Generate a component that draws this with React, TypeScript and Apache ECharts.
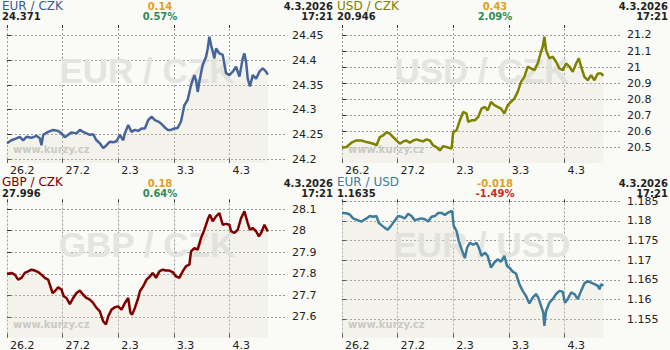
import React, { useEffect, useRef } from "react";
import * as echarts from "echarts";

// ---------- data ----------
const dayLabels = ["26.2", "27.2", "2.3", "3.3", "4.3"];
const dayTicks = [0, 1, 2, 3, 4];

const pairNames = ["EUR / CZK", "USD / CZK", "GBP / CZK", "EUR / USD"];
const lastValues = ["24.371", "20.946", "27.996", "1.1635"];
const changes = ["0.14", "0.43", "0.18", "-0.018"];
const changePcts = ["0.57%", "2.09%", "0.64%", "-1.49%"];
const dateLabel = "4.3.2026";
const timeLabel = "17:21";
const watermarkSite = "www.kurzy.cz";

// time in days since 26.2 00:00 (trading-axis units)
const eurCzkT = [0, 0.08, 0.17, 0.23, 0.29, 0.35, 0.44, 0.53, 0.59, 0.62, 0.65, 0.74, 0.83, 0.92, 0.98, 1.04, 1.1, 1.16, 1.25, 1.31, 1.37, 1.43, 1.49, 1.55, 1.61, 1.67, 1.73, 1.79, 1.85, 1.91, 1.97, 2.03, 2.09, 2.12, 2.18, 2.24, 2.3, 2.36, 2.42, 2.48, 2.54, 2.6, 2.66, 2.72, 2.77, 2.83, 2.89, 2.95, 3.01, 3.07, 3.13, 3.19, 3.25, 3.31, 3.37, 3.4, 3.43, 3.46, 3.52, 3.58, 3.61, 3.64, 3.67, 3.7, 3.73, 3.76, 3.82, 3.88, 3.94, 4.0, 4.06, 4.12, 4.18, 4.24, 4.27, 4.3, 4.33, 4.37, 4.42, 4.48, 4.54, 4.6, 4.66, 4.69];
const eurCzkV = [24.232, 24.238, 24.242, 24.245, 24.238, 24.245, 24.243, 24.247, 24.242, 24.228, 24.249, 24.255, 24.259, 24.257, 24.252, 24.244, 24.249, 24.254, 24.252, 24.259, 24.255, 24.252, 24.249, 24.25, 24.238, 24.232, 24.222, 24.228, 24.235, 24.234, 24.236, 24.249, 24.238, 24.252, 24.269, 24.255, 24.259, 24.257, 24.262, 24.262, 24.279, 24.286, 24.279, 24.276, 24.272, 24.265, 24.259, 24.259, 24.262, 24.263, 24.276, 24.309, 24.32, 24.35, 24.37, 24.36, 24.336, 24.357, 24.391, 24.407, 24.424, 24.448, 24.431, 24.418, 24.404, 24.424, 24.414, 24.411, 24.374, 24.37, 24.377, 24.387, 24.367, 24.404, 24.414, 24.397, 24.363, 24.347, 24.37, 24.363, 24.377, 24.384, 24.377, 24.371];

const usdCzkT = [0, 0.08, 0.17, 0.26, 0.35, 0.44, 0.5, 0.56, 0.62, 0.68, 0.74, 0.8, 0.86, 0.92, 0.98, 1.04, 1.1, 1.16, 1.22, 1.28, 1.34, 1.4, 1.46, 1.52, 1.58, 1.64, 1.7, 1.76, 1.82, 1.88, 1.97, 2.0, 2.06, 2.12, 2.18, 2.24, 2.27, 2.33, 2.39, 2.45, 2.51, 2.57, 2.62, 2.68, 2.74, 2.8, 2.86, 2.92, 2.98, 3.04, 3.1, 3.16, 3.22, 3.28, 3.34, 3.4, 3.46, 3.52, 3.58, 3.61, 3.64, 3.67, 3.73, 3.79, 3.85, 3.91, 3.97, 4.03, 4.09, 4.15, 4.21, 4.26, 4.3, 4.36, 4.42, 4.48, 4.54, 4.6, 4.66, 4.7];
const usdCzkV = [20.5, 20.504, 20.531, 20.545, 20.545, 20.535, 20.531, 20.525, 20.514, 20.566, 20.577, 20.597, 20.587, 20.566, 20.545, 20.525, 20.539, 20.545, 20.531, 20.545, 20.552, 20.545, 20.539, 20.552, 20.545, 20.514, 20.504, 20.483, 20.51, 20.504, 20.494, 20.597, 20.608, 20.67, 20.722, 20.712, 20.66, 20.67, 20.67, 20.691, 20.743, 20.753, 20.732, 20.784, 20.764, 20.753, 20.743, 20.712, 20.764, 20.784, 20.805, 20.847, 20.909, 20.94, 21.003, 20.992, 20.982, 21.023, 21.096, 21.127, 21.19, 21.106, 21.055, 21.065, 21.034, 20.992, 20.982, 21.023, 21.003, 20.971, 21.023, 21.055, 21.003, 20.94, 20.919, 20.951, 20.919, 20.961, 20.961, 20.946];

const gbpCzkT = [0, 0.08, 0.14, 0.2, 0.26, 0.32, 0.38, 0.44, 0.5, 0.56, 0.62, 0.68, 0.74, 0.77, 0.82, 0.86, 0.92, 0.98, 1.02, 1.07, 1.13, 1.19, 1.25, 1.31, 1.37, 1.43, 1.49, 1.55, 1.61, 1.67, 1.73, 1.78, 1.82, 1.88, 1.94, 2.0, 2.06, 2.12, 2.18, 2.22, 2.25, 2.3, 2.36, 2.39, 2.45, 2.51, 2.57, 2.62, 2.68, 2.74, 2.8, 2.86, 2.92, 2.98, 3.04, 3.1, 3.16, 3.22, 3.28, 3.31, 3.37, 3.43, 3.49, 3.55, 3.61, 3.65, 3.7, 3.76, 3.82, 3.88, 3.94, 4.0, 4.03, 4.09, 4.15, 4.21, 4.27, 4.33, 4.37, 4.42, 4.48, 4.53, 4.57, 4.63, 4.69];
const gbpCzkV = [27.799, 27.804, 27.796, 27.773, 27.781, 27.804, 27.811, 27.819, 27.815, 27.808, 27.796, 27.781, 27.773, 27.75, 27.711, 27.719, 27.737, 27.727, 27.696, 27.688, 27.66, 27.688, 27.711, 27.722, 27.703, 27.688, 27.68, 27.665, 27.642, 27.626, 27.58, 27.565, 27.603, 27.634, 27.645, 27.649, 27.634, 27.665, 27.688, 27.619, 27.611, 27.642, 27.688, 27.719, 27.742, 27.773, 27.788, 27.804, 27.781, 27.811, 27.819, 27.815, 27.815, 27.808, 27.788, 27.781, 27.811, 27.835, 27.842, 27.904, 27.919, 27.912, 27.966, 28.004, 28.051, 28.074, 28.043, 28.066, 28.081, 28.027, 28.031, 28.027, 27.997, 27.989, 28.004, 28.058, 28.089, 28.035, 28.004, 28.012, 27.997, 27.973, 27.989, 28.027, 27.996];

const eurUsdT = [0, 0.08, 0.14, 0.2, 0.29, 0.35, 0.44, 0.5, 0.56, 0.62, 0.66, 0.71, 0.77, 0.82, 0.88, 0.94, 1.01, 1.07, 1.13, 1.19, 1.25, 1.31, 1.37, 1.43, 1.49, 1.55, 1.61, 1.67, 1.73, 1.79, 1.85, 1.91, 1.98, 2.01, 2.06, 2.1, 2.15, 2.21, 2.25, 2.3, 2.36, 2.42, 2.46, 2.51, 2.57, 2.62, 2.68, 2.74, 2.8, 2.86, 2.92, 2.97, 3.01, 3.07, 3.13, 3.19, 3.25, 3.31, 3.37, 3.43, 3.49, 3.53, 3.58, 3.62, 3.64, 3.67, 3.73, 3.79, 3.85, 3.91, 3.97, 4.01, 4.06, 4.12, 4.18, 4.24, 4.3, 4.36, 4.42, 4.48, 4.54, 4.6, 4.63, 4.66, 4.7];
const eurUsdV = [1.182, 1.1819, 1.1816, 1.1806, 1.1801, 1.1798, 1.1806, 1.1812, 1.181, 1.1812, 1.1795, 1.1789, 1.1782, 1.1777, 1.1787, 1.1799, 1.1812, 1.181, 1.1806, 1.1818, 1.1812, 1.1801, 1.1804, 1.1806, 1.1804, 1.1798, 1.181, 1.1812, 1.182, 1.182, 1.1815, 1.1821, 1.1825, 1.1787, 1.1774, 1.1749, 1.1728, 1.1705, 1.1732, 1.1744, 1.1739, 1.1744, 1.1732, 1.1711, 1.1719, 1.1711, 1.1681, 1.1694, 1.1702, 1.1696, 1.1711, 1.1685, 1.1681, 1.1671, 1.1666, 1.1639, 1.1622, 1.1609, 1.159, 1.1605, 1.1614, 1.1605, 1.1584, 1.1567, 1.1533, 1.1571, 1.1592, 1.1601, 1.1614, 1.1622, 1.162, 1.1592, 1.1601, 1.1618, 1.1614, 1.1601, 1.1622, 1.1641, 1.1647, 1.1643, 1.1639, 1.1635, 1.1626, 1.1639, 1.1635];

const eurCzkTicks = [24.2, 24.25, 24.3, 24.35, 24.4, 24.45];
const usdCzkTicks = [20.5, 20.6, 20.7, 20.8, 20.9, 21, 21.1, 21.2];
const gbpCzkTicks = [27.6, 27.7, 27.8, 27.9, 28, 28.1];
const eurUsdTicks = [1.155, 1.16, 1.165, 1.17, 1.175, 1.18, 1.185];

// ---------- styling / layout ----------
const BG = "#fafaf6";
const FONT = "'DejaVu Sans', Verdana, sans-serif";
const lineColors = ["#47649a", "#808000", "#800000", "#3f7c9c"];
const titleColors = ["#3d5b91", "#808000", "#800000", "#3f7c9c"];
const changeColor = "#e0a020";
const upColor = "#2e8b57";
const downColor = "#c62828";

const panelX = [0, 335, 0, 335];
const gridOffY = [0, 0, 174.5, 174.5];
const textOffY = [0, 0, 176.5, 176.5];
const yRanges = [
  [24.1919, 24.4717],
  [20.405, 21.262],
  [27.505, 28.144],
  [1.15036, 1.1854],
];

const seriesT = [eurCzkT, usdCzkT, gbpCzkT, eurUsdT];
const seriesV = [eurCzkV, usdCzkV, gbpCzkV, eurUsdV];
const yTicks = [eurCzkTicks, usdCzkTicks, gbpCzkTicks, eurUsdTicks];

function buildOption() {
  const grid: any[] = [];
  const xAxis: any[] = [];
  const yAxis: any[] = [];
  const series: any[] = [];
  const graphic: any[] = [];

  for (let i = 0; i < 4; i++) {
    const px = panelX[i];
    const gy = gridOffY[i];
    const ty = textOffY[i];
    grid.push({
      left: px + 7,
      top: gy + 25,
      width: 278,
      height: 138,
      containLabel: false,
      outerBoundsMode: "none",
    });
    // bottom axis with labels
    xAxis.push({
      type: "value",
      gridIndex: i,
      position: "bottom",
      min: 0,
      max: 5,
      axisLine: { show: false },
      axisTick: {
        show: true,
        inside: true,
        length: 4,
        customValues: dayTicks,
        lineStyle: { color: "#333", width: 1 },
      },
      axisLabel: {
        show: true,
        customValues: dayTicks,
        formatter: (v: number) => dayLabels[Math.round(v)] ?? "",
        align: "left",
        padding: [0, 0, 0, 3],
        margin: 2,
        lineHeight: 11,
        color: "#222",
        fontSize: 11,
        fontFamily: FONT,
      },
      splitLine: {
        show: true,
        lineStyle: { color: "#9a9a9a", type: [2, 2], width: 1 },
      },
    });
    // top axis: ticks only
    xAxis.push({
      type: "value",
      gridIndex: i,
      position: "top",
      min: 0,
      max: 5,
      axisLine: { show: false },
      axisTick: {
        show: true,
        inside: true,
        length: 3,
        customValues: dayTicks,
        lineStyle: { color: "#333", width: 1 },
      },
      axisLabel: { show: false },
      splitLine: { show: false },
    });
    yAxis.push({
      type: "value",
      gridIndex: i,
      position: "right",
      min: yRanges[i][0],
      max: yRanges[i][1],
      axisLine: { show: false },
      axisTick: {
        show: true,
        inside: false,
        length: 4,
        customValues: yTicks[i],
        lineStyle: { color: "#333", width: 1 },
      },
      axisLabel: {
        show: true,
        customValues: yTicks[i],
        formatter: (v: number) => String(parseFloat(v.toFixed(4))),
        margin: 7,
        lineHeight: 10,
        color: "#222",
        fontSize: 11,
        fontFamily: FONT,
      },
      splitLine: {
        show: true,
        lineStyle: { color: "#9a9a9a", type: [2, 2], width: 1 },
      },
    });
    series.push({
      type: "line",
      xAxisIndex: i * 2,
      yAxisIndex: i,
      data: seriesT[i].map((t, k) => [t, seriesV[i][k]]),
      showSymbol: false,
      symbol: "none",
      lineStyle: { color: lineColors[i], width: 2.5 },
      areaStyle: { color: "rgba(224,224,205,0.35)", origin: "start" },
      z: 3,
    });

    // watermarks
    graphic.push({
      type: "text",
      x: px + 147,
      y: gy + 70,
      z: 1,
      silent: true,
      style: {
        text: pairNames[i],
        fill: "#e4e4e2",
        font: `bold 35px 'Liberation Sans', Arial, sans-serif`,
        align: "center",
        verticalAlign: "middle",
      },
    });
    graphic.push({
      type: "text",
      x: px + 13,
      y: gy + 149.5,
      z: 1,
      silent: true,
      style: {
        text: watermarkSite,
        fill: "#c4c4c2",
        font: `bold 10px ${FONT}`,
        align: "left",
        verticalAlign: "middle",
      },
    });

    // header texts
    const neg = changes[i].startsWith("-");
    const headers = [
      { text: pairNames[i], x: px + 2, y: ty + 5.9, align: "left", fill: titleColors[i], font: `12px ${FONT}`, lh: 11 },
      { text: lastValues[i], x: px + 2, y: ty + 16.5, align: "left", fill: "#222", font: `bold 10px ${FONT}`, lh: 9 },
      { text: changes[i], x: px + 160, y: ty + 6.5, align: "center", fill: changeColor, font: `bold 10px ${FONT}`, lh: 9 },
      { text: changePcts[i], x: px + 160, y: ty + 16.5, align: "center", fill: neg ? downColor : upColor, font: `bold 10px ${FONT}`, lh: 9 },
      { text: dateLabel, x: px + 333, y: ty + 6.5, align: "right", fill: "#222", font: `bold 10px ${FONT}`, lh: 9 },
      { text: timeLabel, x: px + 333, y: ty + 16.5, align: "right", fill: "#222", font: `bold 10px ${FONT}`, lh: 9 },
    ];
    headers.forEach((h) =>
      graphic.push({
        type: "text",
        x: h.x,
        y: h.y,
        z: 10,
        silent: true,
        style: {
          text: h.text,
          fill: h.fill,
          font: h.font,
          lineHeight: h.lh,
          align: h.align,
          verticalAlign: "middle",
        },
      })
    );
  }

  return {
    animation: false,
    backgroundColor: BG,
    grid,
    xAxis,
    yAxis,
    series,
    graphic,
  };
}

export default function App() {
  const ref = useRef<HTMLDivElement>(null);
  useEffect(() => {
    const chart = echarts.init(ref.current!, null, { renderer: "svg" });
    chart.setOption(buildOption() as any);
    return () => chart.dispose();
  }, []);
  return (
    <div
      ref={ref}
      style={{ position: "fixed", left: 0, top: 0, width: 670, height: 350, background: BG }}
    />
  );
}
